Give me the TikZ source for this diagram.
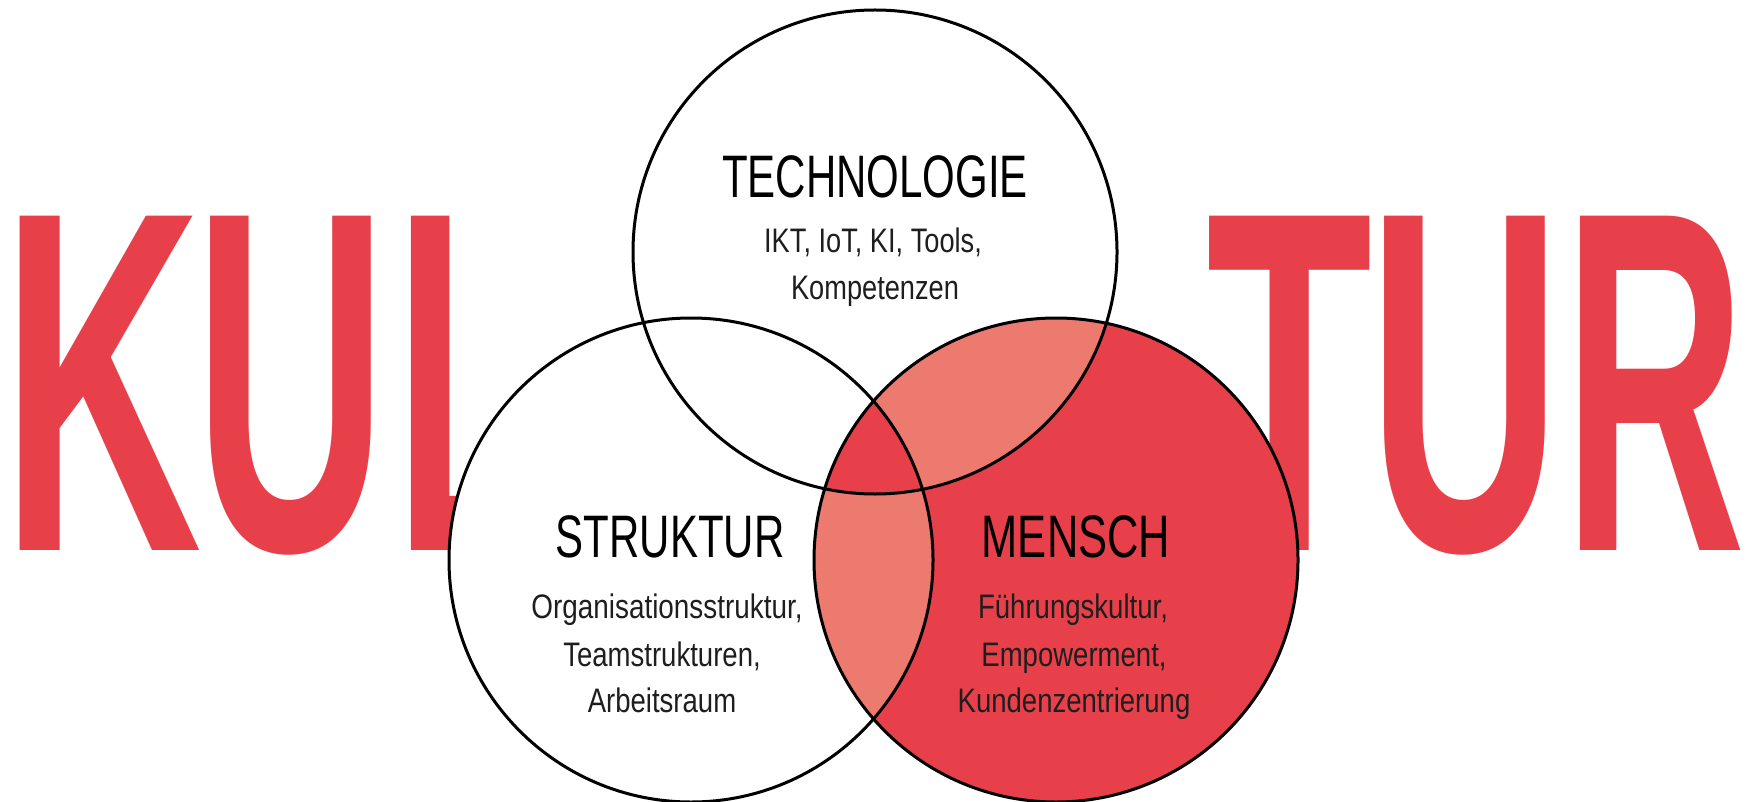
\documentclass[tikz,border=0pt]{standalone}
\usepackage{fontspec}
\setmainfont{Liberation Sans}
\usepackage{graphicx}
\definecolor{kred}{HTML}{E8404A}
\definecolor{klight}{HTML}{EC7A6F}
\definecolor{ktext}{HTML}{1E1E1E}
\newcommand{\condx}[2]{\scalebox{#1}[1]{#2}}
\begin{document}
\begin{tikzpicture}[x=1pt,y=-1pt,
  bigletter/.style={anchor=base west, inner sep=0pt, text=kred, font=\fontsize{486}{486}\selectfont\bfseries},
  titletxt/.style={anchor=base, inner sep=0pt, text=black, font=\fontsize{60}{60}\selectfont},
  bodytxt/.style={anchor=base, inner sep=0pt, text=ktext, font=\fontsize{34}{34}\selectfont},
  ring/.style={draw=black, line width=3pt}]
\useasboundingbox (0,0) rectangle (1747,802);
\fill[white] (0,0) rectangle (1747,802);
% big word KUL ... TUR, split by the diagram (foot of L hidden behind the circle)
\node[bigletter] (kK) at (1.7,550)   {\condx{0.572}{K}};
\node[bigletter] (kU) at (194.5,550) {\condx{0.55}{U}};
\node[bigletter] (kL) at (393,550)   {\condx{0.55}{L}};
\node[bigletter] (tT) at (1206,550)  {\condx{0.56}{T}};
\node[bigletter] (tU) at (1368,550)  {\condx{0.55}{U}};
\node[bigletter] (tR) at (1563,550)  {\condx{0.52}{R}};
% circles
\def\R{242pt}
\coordinate (ct) at (875,252);
\coordinate (cs) at (691,560);
\coordinate (cm) at (1056,560);
\fill[white] (ct) circle[radius=\R];
\fill[white] (cs) circle[radius=\R];
\fill[kred] (cm) circle[radius=\R];
\begin{scope}
  \clip (cm) circle[radius=\R];
  \fill[klight] (ct) circle[radius=\R];
  \fill[klight] (cs) circle[radius=\R];
  \clip (ct) circle[radius=\R];
  \fill[kred] (cs) circle[radius=\R];
\end{scope}
\draw[ring] (ct) circle[radius=\R];
\draw[ring] (cs) circle[radius=\R];
\draw[ring] (cm) circle[radius=\R];
% labels
\node[titletxt] (techT) at (875,198) {\condx{0.70}{TECHNOLOGIE}};
\node[bodytxt] (tech1) at (873,253) {\condx{0.80}{IKT, IoT, KI, Tools,}};
\node[bodytxt] (tech2) at (875,299) {\condx{0.80}{Kompetenzen}};
\node[titletxt] (strT) at (670,557) {\condx{0.70}{STRUKTUR}};
\node[bodytxt] (str1) at (667,618) {\condx{0.82}{Organisationsstruktur,}};
\node[bodytxt] (str2) at (662,666) {\condx{0.81}{Teamstrukturen,}};
\node[bodytxt] (str3) at (662,712) {\condx{0.81}{Arbeitsraum}};
\node[titletxt] (menT) at (1076,557) {\condx{0.725}{MENSCH}};
\node[bodytxt] (men1) at (1073,618) {\condx{0.81}{Führungskultur,}};
\node[bodytxt] (men2) at (1074,666) {\condx{0.81}{Empowerment,}};
\node[bodytxt] (men3) at (1074,712) {\condx{0.81}{Kundenzentrierung}};
\end{tikzpicture}
\end{document}
